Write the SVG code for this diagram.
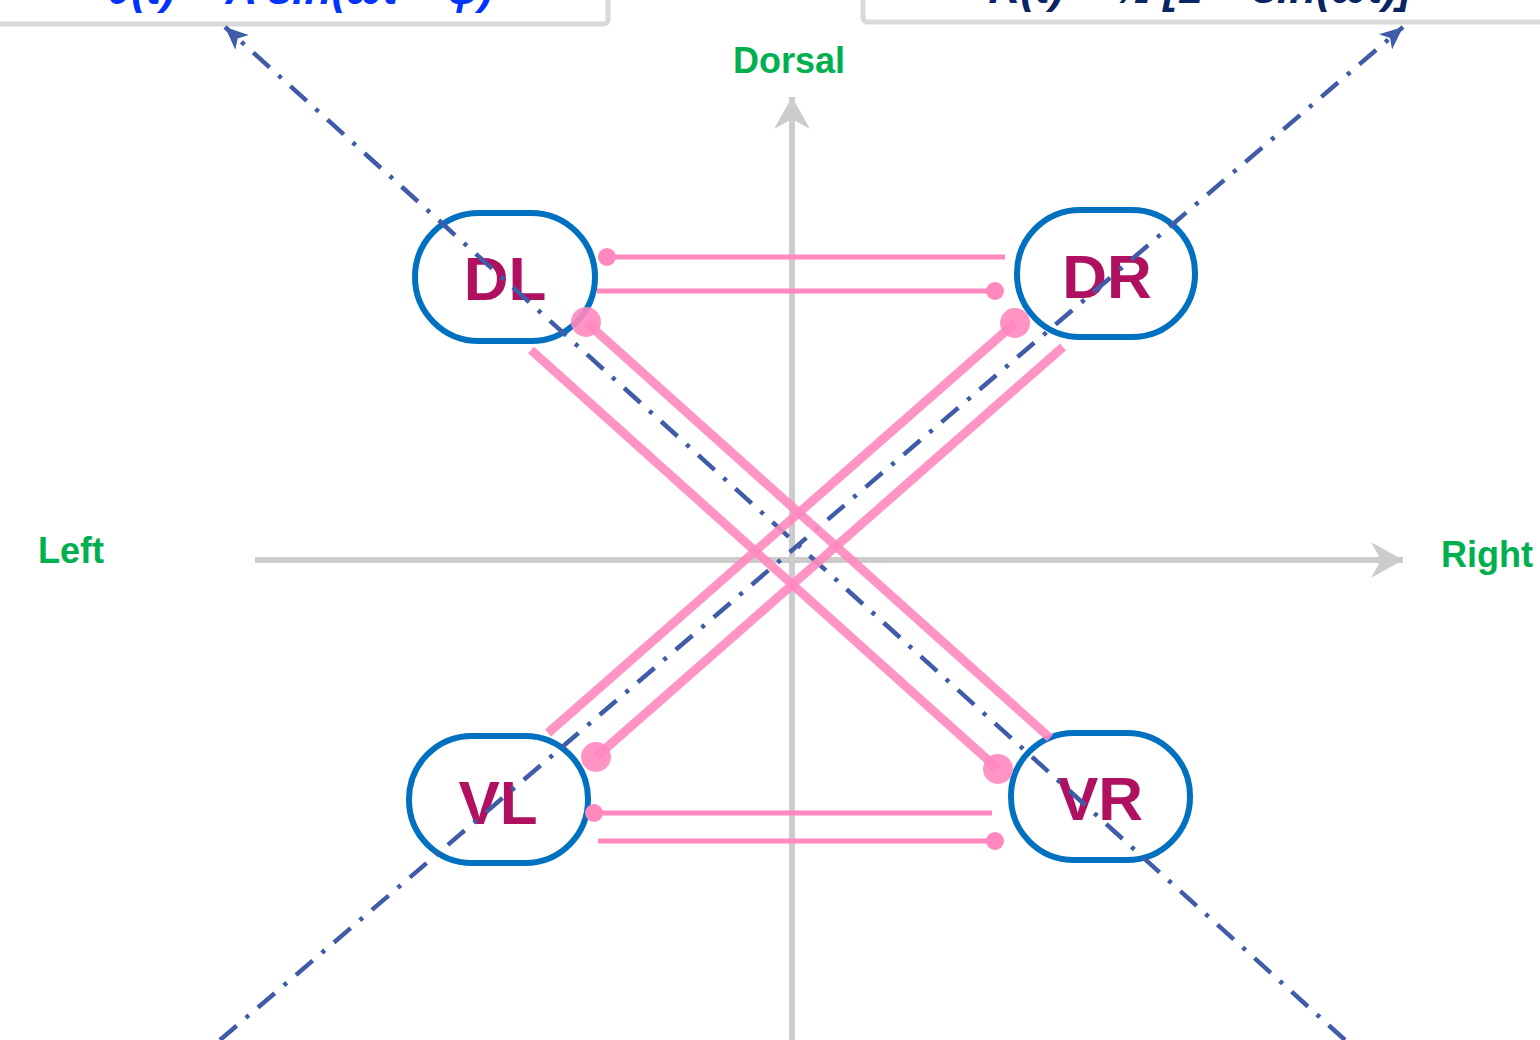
<svg xmlns="http://www.w3.org/2000/svg" width="1540" height="1040" viewBox="0 0 1540 1040">
<style>
.axis{stroke:#cccccc;stroke-width:6;fill:none}
.dd{stroke:#405ca8;stroke-width:4.5;fill:none;stroke-dasharray:22 12 4 12}
.node{fill:none;stroke:#0070c0;stroke-width:6}
.nl{font-family:"Liberation Sans",Arial,sans-serif;font-weight:bold;font-size:62px;fill:#b01060;text-anchor:middle}
.dir{font-family:"Liberation Sans",Arial,sans-serif;font-weight:bold;font-size:36px;fill:#00b050}
.thin{stroke:#ff88bf;stroke-width:5;fill:none}
.thick{stroke:#ff88bf;stroke-width:9;fill:none;opacity:0.9}
.dotS{fill:#ff88bf}
.dotL{fill:#ff88bf;opacity:0.9}
.box{fill:#ffffff;stroke:#d9d9d9;stroke-width:5}
.fm{font-family:"Liberation Sans",Arial,sans-serif;font-weight:bold;font-style:italic;font-size:44px;text-anchor:middle}
</style>
<defs>
<marker id="ga" viewBox="0 0 36 36" refX="34" refY="18" markerWidth="36" markerHeight="36" markerUnits="userSpaceOnUse" orient="auto">
<path d="M34,18 L2,0 L12,18 L2,36 Z" fill="#cccccc"/>
</marker>
<marker id="ba" viewBox="0 0 24 20" refX="23" refY="10" markerWidth="24" markerHeight="20" markerUnits="userSpaceOnUse" orient="auto">
<path d="M23,10 L0,0 L6,10 L0,20 Z" fill="#405ca8"/>
</marker>
</defs>
<g id="formula-left">
<rect class="box" x="-20" y="-60" width="628" height="84" rx="4"/>
<text class="fm" x="300" y="4" fill="#0033ff">θ(t) = A sin(ωt + φ)</text>
</g>
<g id="formula-right">
<rect class="box" x="863" y="-60" width="700" height="82" rx="4"/>
<text class="fm" x="1200" y="3" fill="#0a2564">R(t) = ½ [1 + sin(ωt)]</text>
</g>
<g id="axes">
<line class="axis" x1="792" y1="1040" x2="792" y2="97" marker-end="url(#ga)"/>
<line class="axis" x1="255" y1="560" x2="1403" y2="560" marker-end="url(#ga)"/>
</g>
<g id="labels">
<text class="dir" x="789" y="73" text-anchor="middle">Dorsal</text>
<text class="dir" x="38" y="563">Left</text>
<text class="dir" x="1441" y="567">Right</text>
</g>
<g id="DL"><rect class="node" x="415" y="213" width="180" height="128" rx="64"/><text class="nl" x="505" y="300">DL</text></g>
<g id="DR"><rect class="node" x="1017" y="210" width="178" height="127" rx="63"/><text class="nl" x="1107" y="298">DR</text></g>
<g id="VL"><rect class="node" x="409" y="736" width="179" height="127" rx="63"/><text class="nl" x="498" y="824">VL</text></g>
<g id="VR"><rect class="node" x="1011" y="733" width="179" height="127" rx="63"/><text class="nl" x="1100" y="820">VR</text></g>
<g id="connectors">
<line class="dd" x1="1345" y1="1040" x2="225" y2="27" marker-end="url(#ba)"/>
<line class="dd" x1="220" y1="1040" x2="1403" y2="27" marker-end="url(#ba)"/>
<line class="thin" x1="607" y1="257" x2="1005" y2="257"/><circle class="dotS" cx="607" cy="257" r="9"/>
<line class="thin" x1="597" y1="291" x2="995" y2="291"/><circle class="dotS" cx="995" cy="291" r="9"/>
<line class="thin" x1="594" y1="813" x2="992" y2="813"/><circle class="dotS" cx="594" cy="813" r="9"/>
<line class="thin" x1="598" y1="841" x2="995" y2="841"/><circle class="dotS" cx="995" cy="841" r="9"/>
<line class="thick" x1="586" y1="322" x2="1050" y2="738"/><circle class="dotL" cx="586" cy="322" r="15"/>
<line class="thick" x1="531" y1="350" x2="998" y2="769"/><circle class="dotL" cx="998" cy="769" r="15"/>
<line class="thick" x1="1015" y1="323" x2="548" y2="733"/><circle class="dotL" cx="1015" cy="323" r="15"/>
<line class="thick" x1="1063" y1="347" x2="596" y2="757"/><circle class="dotL" cx="596" cy="757" r="15"/>
</g>
</svg>
